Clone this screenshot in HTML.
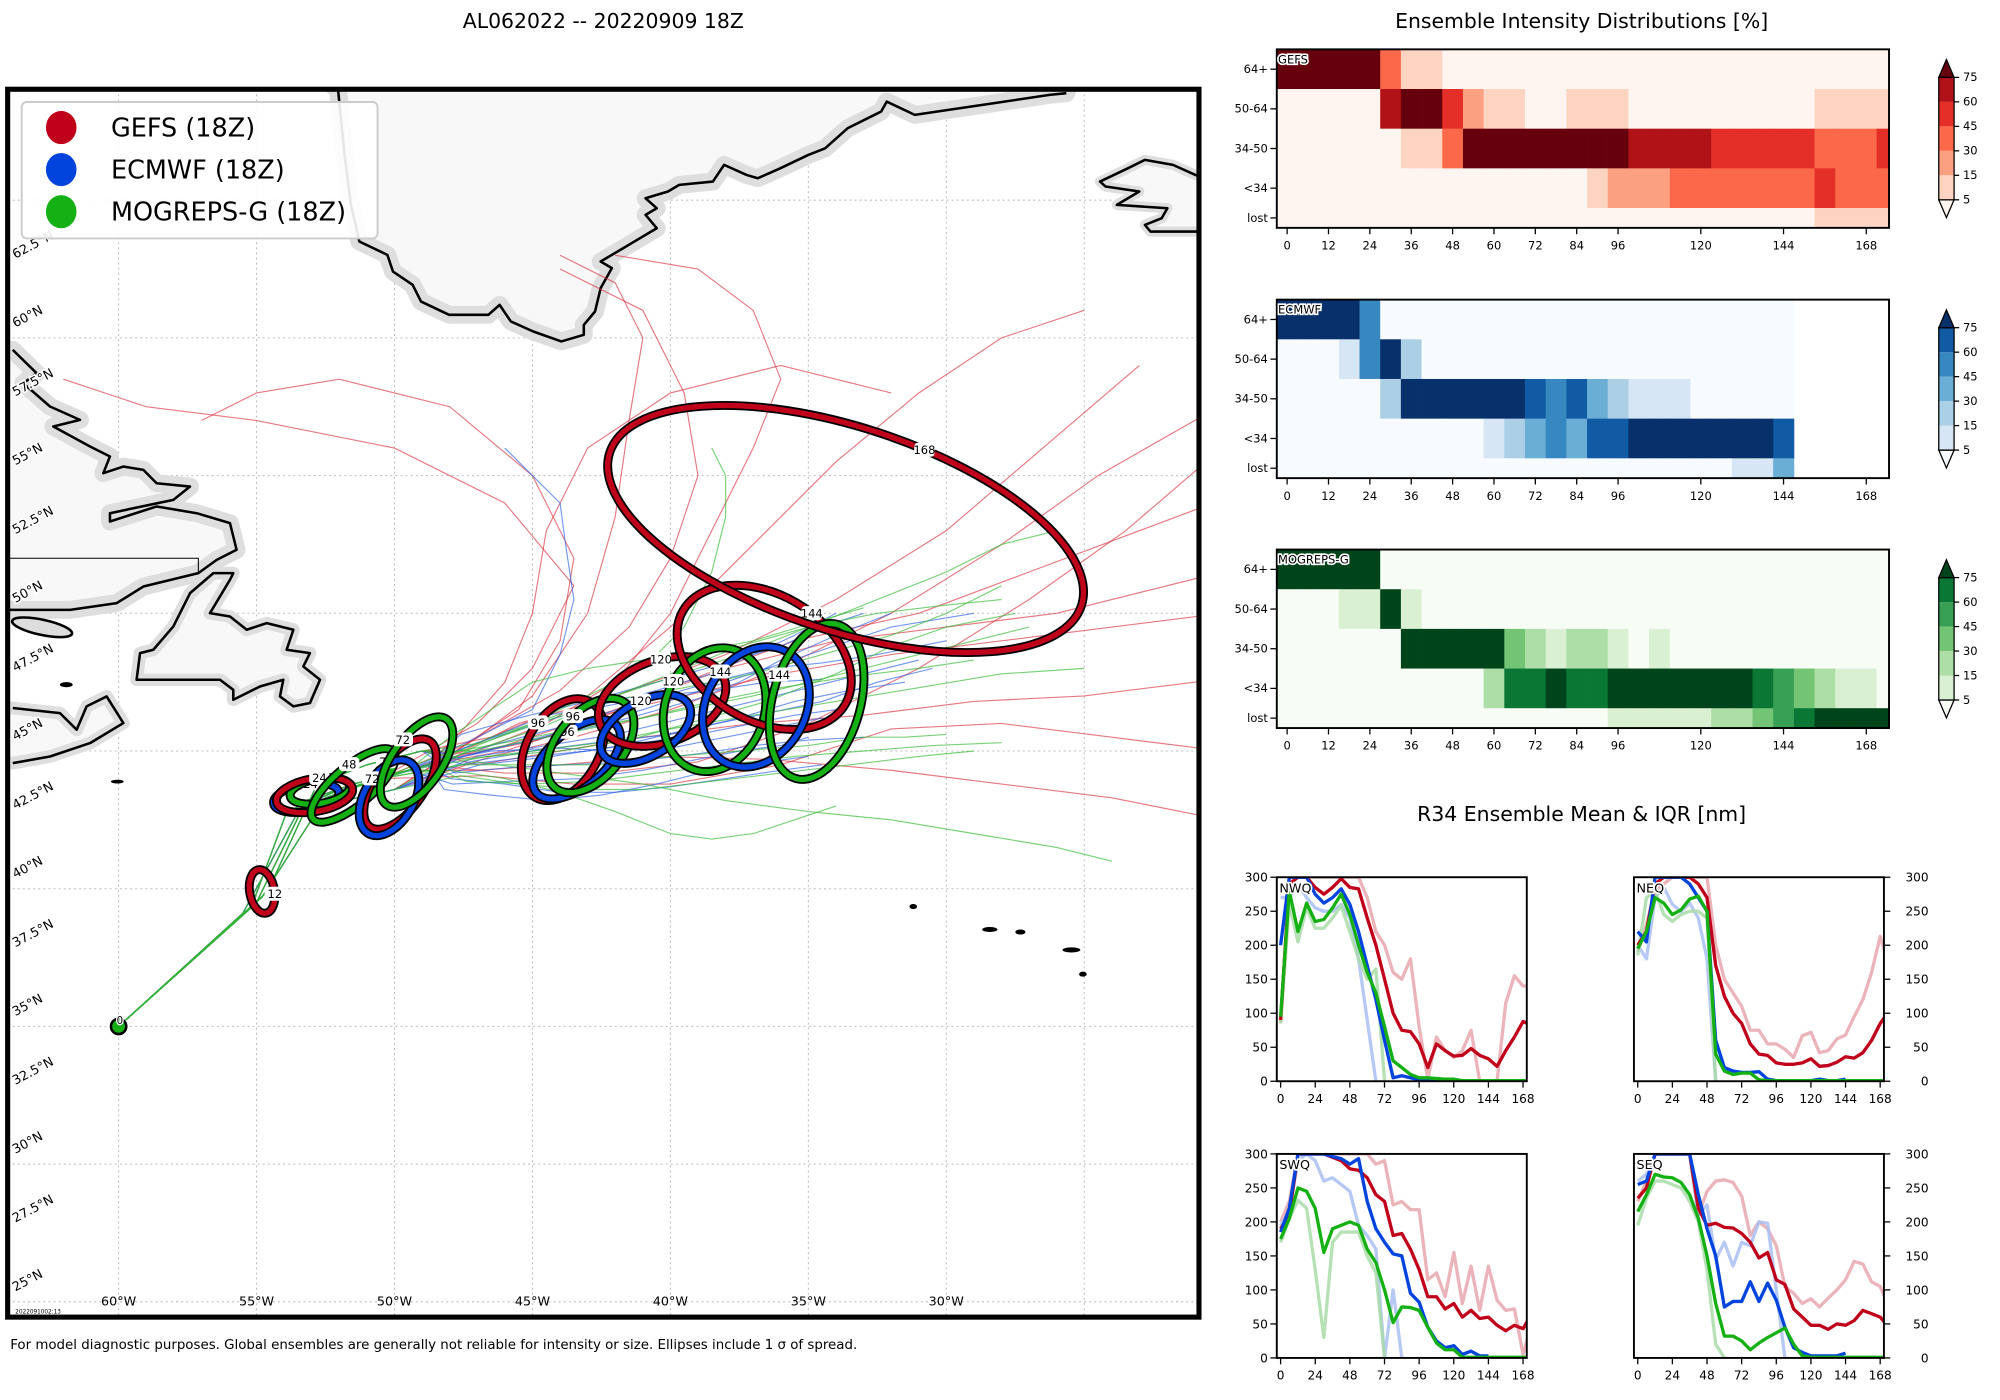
<!DOCTYPE html>
<html><head><meta charset="utf-8"><style>
html,body{margin:0;padding:0;background:#fff;}
svg{display:block;font-family:"DejaVu Sans","Liberation Sans",sans-serif;}
</style></head><body>
<svg id="root" xmlns="http://www.w3.org/2000/svg" width="2000" height="1400" viewBox="0 0 1568 1098" preserveAspectRatio="none">
<defs>
<clipPath id="mapclip"><rect x="6" y="70" width="934" height="963"/></clipPath>
</defs>
<rect x="0" y="0" width="1568" height="1098" fill="#fff"/>
<text x="473" y="22" font-size="16" text-anchor="middle">AL062022 -- 20220909 18Z</text>
<text x="1240" y="22" font-size="16" text-anchor="middle">Ensemble Intensity Distributions [%]</text>
<text x="1240" y="644" font-size="16" text-anchor="middle">R34 Ensemble Mean &amp; IQR [nm]</text>
<text x="8" y="1058" font-size="10.5">For model diagnostic purposes. Global ensembles are generally not reliable for intensity or size. Ellipses include 1 σ of spread.</text>
<g id="map" clip-path="url(#mapclip)">
<rect x="6" y="70" width="934" height="963" fill="#fff"/>
<g id="grid"></g>
<g fill="#f8f8f8" stroke-linejoin="round">
<g>
<polygon id="gl" points="250,60 265,70 270,120 275,160 281.7,189.4 303.7,199.9 308.1,213 323.5,223.4 330.1,236.5 352.1,246.9 382.9,246.9 391.7,239.1 400.5,252.1 418.1,260 440.1,267.8 457.7,262.6 457.7,254.8 466.5,244.3 470.9,226 479.7,210.3 470.9,205.1 488.5,194.7 514.9,179 506.1,168.5 514.9,163.3 506.1,155.5 523.7,150.2 532.5,145 558.9,142.4 567.7,129.3 585.3,137.2 594.1,139.8 611.7,132 633.7,121.5 646.9,116.3 664.5,100.6 690.8,87.5 695.2,79.7 717.2,90.1 743.6,86.2 778.9,81 822.8,74.4 836,73.1 840,60" stroke="#dedede" stroke-width="14"/>
<polyline points="265,70 270,120 275,160 281.7,189.4 303.7,199.9 308.1,213 323.5,223.4 330.1,236.5 352.1,246.9 382.9,246.9 391.7,239.1 400.5,252.1 418.1,260 440.1,267.8 457.7,262.6 457.7,254.8 466.5,244.3 470.9,226 479.7,210.3 470.9,205.1 488.5,194.7 514.9,179 506.1,168.5 514.9,163.3 506.1,155.5 523.7,150.2 532.5,145 558.9,142.4 567.7,129.3 585.3,137.2 594.1,139.8 611.7,132 633.7,121.5 646.9,116.3 664.5,100.6 690.8,87.5 695.2,79.7 717.2,90.1 743.6,86.2 778.9,81 822.8,74.4 836,73.1" fill="none" stroke="#000" stroke-width="2"/>
</g>
<g>
<polygon points="862.4,142.4 884.4,131.9 897.6,125.4 919.6,129.3 937.2,137.2 945,140 945,181.6 902,181.6 897.6,176.4 910.8,171.1 915.2,163.3 875.6,160.7 893.2,150.2 866.8,146.3" stroke="#dedede" stroke-width="8"/>
<polygon points="862.4,142.4 884.4,131.9 897.6,125.4 919.6,129.3 937.2,137.2 945,140 945,181.6 902,181.6 897.6,176.4 910.8,171.1 915.2,163.3 875.6,160.7 893.2,150.2 866.8,146.3" fill="none" stroke="#000" stroke-width="2"/>
</g>
<g>
<polygon points="0,274.4 10,274.4 28.7,292.7 18.3,300.6 39.2,318.8 62.7,329.3 41.8,334.5 70.6,350.2 86.2,358 81,371.1 96.7,365.9 112.4,368.5 122.8,379 149,381.6 135.9,392 86.2,402.5 86.2,409 122.8,397.2 154.2,402.5 180.3,410.3 185.5,431.2 169.9,439.1 155.5,449.5 112.4,460 91.5,473 54.9,478.3 0,478.3" stroke="#dedede" stroke-width="14"/>
<polyline points="10,274.4 28.7,292.7 18.3,300.6 39.2,318.8 62.7,329.3 41.8,334.5 70.6,350.2 86.2,358 81,371.1 96.7,365.9 112.4,368.5 122.8,379 149,381.6 135.9,392 86.2,402.5 86.2,409 122.8,397.2 154.2,402.5 180.3,410.3 185.5,431.2 169.9,439.1 155.5,449.5 112.4,460 91.5,473 54.9,478.3 0,478.3" fill="none" stroke="#000" stroke-width="2"/>
<polyline points="6,437.8 155.5,437.8 155.5,449.5" fill="none" stroke="#000" stroke-width="0.8"/>
</g>
<g>
<polygon points="107.1,533.1 109.8,512.2 120.2,509.6 135.9,491.3 149,465.2 167.3,449.5 182.9,449.5 180.3,454.7 164.6,480.9 180.3,483.5 193.4,493.9 209.1,488.7 230,493.9 224.7,509.6 243,512.2 237.8,522.7 250.9,533.1 243,551.4 230,554 219.5,546.2 222.1,533.1 203.8,538.4 182.9,548.8 182.9,541 172.5,533.1 130.7,533.1" stroke="#dedede" stroke-width="10"/>
<polygon points="107.1,533.1 109.8,512.2 120.2,509.6 135.9,491.3 149,465.2 167.3,449.5 182.9,449.5 180.3,454.7 164.6,480.9 180.3,483.5 193.4,493.9 209.1,488.7 230,493.9 224.7,509.6 243,512.2 237.8,522.7 250.9,533.1 243,551.4 230,554 219.5,546.2 222.1,533.1 203.8,538.4 182.9,548.8 182.9,541 172.5,533.1 130.7,533.1" fill="none" stroke="#000" stroke-width="2"/>
</g>
<g>
<polygon points="0,555.3 10,555.3 47,559.3 60.1,572.3 67.9,554 83.6,546.2 96.7,567.1 70.6,582.8 39.2,593.3 10,598.5 0,598.5" stroke="#dedede" stroke-width="10"/>
<polyline points="10,555.3 47,559.3 60.1,572.3 67.9,554 83.6,546.2 96.7,567.1 70.6,582.8 39.2,593.3 10,598.5" fill="none" stroke="#000" stroke-width="2"/>
</g>
<ellipse cx="33" cy="492" rx="24" ry="6" transform="rotate(12 33 492)" fill="#ddd" stroke="#000" stroke-width="2"/>
<g fill="#000"><ellipse cx="716" cy="711" rx="3" ry="2"/><ellipse cx="776" cy="729" rx="6" ry="2"/><ellipse cx="800" cy="731" rx="4" ry="2"/><ellipse cx="840" cy="745" rx="7" ry="2"/><ellipse cx="849" cy="764" rx="3" ry="2"/><ellipse cx="92" cy="613" rx="5" ry="1.5"/><ellipse cx="52" cy="537" rx="5" ry="2"/></g>
</g>
<g id="tracks"></g>
<g id="ellipses"></g>
</g>
<rect x="6" y="70" width="934" height="963" fill="none" stroke="#000" stroke-width="4"/>
<g id="maplabels" font-size="10"></g>
<text x="12" y="1030" font-size="4.5">2022091002:13</text>
<g>
<rect x="17" y="80" width="279" height="107" rx="4" fill="#fff" fill-opacity="0.9" stroke="#ccc" stroke-width="1.5"/>
<g><ellipse cx="48" cy="100" rx="12" ry="13" fill="#c0001a"/><text x="87" y="107" font-size="20">GEFS (18Z)</text></g>
<g><ellipse cx="48" cy="133" rx="12" ry="13" fill="#0044dd"/><text x="87" y="140" font-size="20">ECMWF (18Z)</text></g>
<g><ellipse cx="48" cy="166" rx="12" ry="13" fill="#14b014"/><text x="87" y="173" font-size="20">MOGREPS-G (18Z)</text></g>
</g>
<g id="heatmaps"></g>
<g id="lines"></g>
</svg>
<script>
// ---------- DATA ----------
const hours = [0,6,12,18,24,30,36,42,48,54,60,66,72,78,84,90,96,102,108,114,120,126,132,138,144,150,156,162,168,174];
const rowLabels = ['64+','50-64','34-50','<34','lost'];
const xTickLabels = [0,12,24,36,48,60,72,84,96,120,144,168];
const cbarLevels = [5,15,30,45,60,75];
const N=null;
const gefs64 = [80,80,80,80,80,35,10,10,0,0,0,0,0,0,0,0,0,0,0,0,0,0,0,0,0,0,0,0,0,0];
const gefs50 = [0,0,0,0,0,65,80,80,50,20,10,10,0,0,10,10,10,0,0,0,0,0,0,0,0,0,10,10,10,10];
const gefs34 = [0,0,0,0,0,0,10,10,35,80,80,80,80,80,80,80,80,65,65,65,65,50,50,50,50,50,35,35,35,50];
const gefsTS = [0,0,0,0,0,0,0,0,0,0,0,0,0,0,0,10,20,20,20,35,35,35,35,35,35,35,50,35,35,35];
const gefsLost = [0,0,0,0,0,0,0,0,0,0,0,0,0,0,0,0,0,0,0,0,0,0,0,0,0,0,10,10,10,10];
const ecm64 = [80,80,80,80,50,0,0,0,0,0,0,0,0,0,0,0,0,0,0,0,0,0,0,0,0,N,N,N,N,N];
const ecm50 = [0,0,0,10,50,80,20,0,0,0,0,0,0,0,0,0,0,0,0,0,0,0,0,0,0,N,N,N,N,N];
const ecm34 = [0,0,0,0,0,20,80,80,80,80,80,80,65,50,65,35,20,10,10,10,0,0,0,0,0,N,N,N,N,N];
const ecmTS = [0,0,0,0,0,0,0,0,0,0,10,20,35,50,35,65,65,80,80,80,80,80,80,80,65,N,N,N,N,N];
const ecmLost = [0,0,0,0,0,0,0,0,0,0,0,0,0,0,0,0,0,0,0,0,0,0,10,10,35,N,N,N,N,N];
const mog64 = [80,80,80,80,80,0,0,0,0,0,0,0,0,0,0,0,0,0,0,0,0,0,0,0,0,0,0,0,0,0];
const mog50 = [0,0,0,10,10,80,10,0,0,0,0,0,0,0,0,0,0,0,0,0,0,0,0,0,0,0,0,0,0,0];
const mog34 = [0,0,0,0,0,0,80,80,80,80,80,35,20,10,20,20,10,0,10,0,0,0,0,0,0,0,0,0,0,0];
const mogTS = [0,0,0,0,0,0,0,0,0,0,20,65,65,80,65,65,80,80,80,80,80,80,80,65,50,35,20,10,10,0];
const mogLost = [0,0,0,0,0,0,0,0,0,0,0,0,0,0,0,0,10,10,10,10,10,20,20,35,50,65,80,80,80,80];

// R34 series (nm), 6-hourly
const nwqGefs = [90,290,300,300,285,275,285,298,285,283,240,200,150,100,75,73,55,20,55,45,37,38,48,38,33,22,45,65,88,82];
const nwqEcm = [200,300,300,300,275,262,270,283,260,220,170,120,60,5,8,5,2,1,1,1,1,1,1,1,1,N,N,N,N,N];
const nwqMog = [95,280,220,262,235,238,255,275,245,200,160,130,80,30,20,10,5,5,4,3,3,1,1,1,1,1,1,1,1,1];
const nwqGefsHi = [85,300,300,300,300,300,300,300,300,300,270,220,200,160,150,180,80,3,65,45,35,45,75,0,0,0,115,155,140,140];
const nwqEcmLo = [270,270,290,270,255,250,250,260,240,180,90,0,N,N,N,N,N,N,N,N,N,N,N,N,N,N,N,N,N,N];
const nwqMogLo = [85,260,205,255,225,225,240,258,220,180,150,165,0,N,N,N,N,N,N,N,N,N,N,N,N,N,N,N,N,N];
const neqGefs = [200,220,290,300,300,300,300,290,270,170,125,100,85,55,40,38,27,25,25,27,33,22,23,28,36,34,42,60,85,103];
const neqEcm = [220,205,300,300,300,300,290,270,250,60,20,15,13,13,14,3,1,1,1,1,1,3,1,1,3,N,N,N,N,N];
const neqMog = [195,220,270,262,245,252,268,272,250,40,15,10,12,12,2,1,1,1,1,1,1,1,1,1,1,1,1,1,1,1];
const neqGefsHi = [190,230,280,290,300,300,300,300,300,200,150,130,110,75,75,55,55,47,35,67,72,42,45,62,68,95,120,160,213,170];
const neqEcmLo = [200,180,270,285,260,250,262,240,180,0,N,N,N,N,N,N,N,N,N,N,N,N,N,N,N,N,N,N,N,N];
const neqMogLo = [185,270,280,245,235,245,250,250,240,0,N,N,N,N,N,N,N,N,N,N,N,N,N,N,N,N,N,N,N,N];
const swqGefs = [190,210,300,300,300,300,295,290,278,276,265,240,230,180,183,160,130,90,90,72,80,60,70,58,60,48,40,48,43,65];
const swqEcm = [185,220,300,300,300,300,296,293,285,293,230,190,170,153,150,95,82,45,25,15,18,5,10,3,3,N,N,N,N,N];
const swqMog = [175,205,250,245,220,155,190,195,200,195,160,140,100,52,75,74,70,45,22,12,12,1,1,1,1,1,1,1,1,1];
const swqGefsHi = [200,230,300,300,300,300,300,300,300,300,300,285,290,225,230,218,218,115,125,90,155,80,135,70,135,85,70,72,5,50];
const swqEcmLo = [195,215,290,300,290,260,265,255,245,195,180,160,0,100,0,N,N,N,N,N,N,N,N,N,N,N,N,N,N,N];
const swqMogLo = [170,205,232,220,130,30,170,185,185,185,150,125,0,N,N,N,N,N,N,N,N,N,N,N,N,N,N,N,N,N];
const seqGefs = [235,250,300,300,300,300,300,220,195,198,192,191,183,170,147,155,115,108,72,60,48,48,42,50,48,55,70,65,60,45];
const seqEcm = [255,260,300,300,300,300,300,240,190,150,75,83,83,112,83,110,85,45,15,8,3,3,3,3,7,N,N,N,N,N];
const seqMog = [215,240,270,266,265,258,240,205,150,80,32,32,25,12,22,30,37,44,20,3,1,1,1,1,1,1,1,1,1,1];
const seqGefsHi = [230,260,300,300,300,300,300,210,245,260,262,258,238,180,200,190,165,105,95,80,87,75,88,100,115,142,138,112,105,75];
const seqEcmHi = [260,270,300,300,300,300,300,210,225,145,170,135,170,165,200,198,100,0,N,N,N,N,N,N,N,N,N,N,N,N];
const seqMogLo = [195,235,260,260,255,250,230,200,130,20,0,N,N,N,N,N,N,N,N,N,N,N,N,N,N,N,N,N,N,N];
const r34Ticks = [0,50,100,150,200,250,300];
const r34XTicks = [0,24,48,72,96,120,144,168];

// Track starts (0-48h) [lon,lat]
const trackBases = [
 [[-60,35],[-55,39.5],[-53.2,43.2],[-51.5,43.8],[-49.5,44.3]],
 [[-60,35],[-55.5,39.1],[-53.6,42.6],[-51.8,43.2],[-50,43.6]],
 [[-60,35],[-54.6,39.9],[-52.8,43.8],[-51,44.5],[-49,45]],
 [[-60,35],[-55.2,39.3],[-53.9,42.8],[-52.2,43.5],[-50.5,44]],
 [[-60,35],[-54.8,39.7],[-52.5,43.3],[-50.8,43.9],[-48.8,44.5]]
];
const gefsTracks = [
 [[-47,45],[-44.5,46],[-42,47.5],[-40,50],[-38.5,53],[-37,56],[-36,58.5],[-37,61],[-39,62.5],[-42,63]],
 [[-46.5,44.8],[-43.5,45.5],[-40,46.5],[-36,48],[-32,50],[-28,52.5],[-24.5,55],[-21,57],[-19,58]],
 [[-47,44.5],[-44,45],[-41,45.5],[-37,46],[-33,46.3],[-29,46.8],[-25,47],[-21,47.5],[-18,48]],
 [[-47.5,45.2],[-45.5,46.5],[-44,49],[-43.5,52],[-45,55],[-48,57.5],[-52,58.5],[-55,58],[-57,57]],
 [[-46,45],[-43,46],[-39.5,47.5],[-35.5,49],[-31,50],[-27,51.5],[-23,53],[-19,54.5]],
 [[-47,44.3],[-44,44.5],[-40.5,44.8],[-36.5,44.7],[-32,44.3],[-28,43.8],[-24,43.3],[-20,42.5]],
 [[-47,45.5],[-45,47],[-43,50],[-42,53.5],[-41.5,57],[-41,60],[-42,62],[-44,63]],
 [[-46.5,45.5],[-43,47],[-40,49.5],[-37,52.5],[-34,55.5],[-31,58],[-28,60],[-25,61]],
 [[-47,46],[-45,48],[-43.5,51],[-46,54],[-50,56],[-55,57],[-59,57.5],[-62,58.5]],
 [[-46,44.2],[-42.5,44.2],[-39,44.6],[-35,46],[-31,48],[-27,50.5],[-23.5,53],[-20,56]],
 [[-47.5,45],[-45.5,46],[-42,47],[-38,48.5],[-34,50.5],[-30,53],[-26.5,56],[-23,59]],
 [[-46.8,45.6],[-44,47.2],[-41.5,49.5],[-40,52],[-39,55],[-39.5,58],[-41,61],[-44,62.5]],
 [[-47.2,44.9],[-44.8,45.4],[-42.5,46.3],[-39.5,47],[-36,47.8],[-32,48.5],[-28,49],[-24,49.5],[-20,50]],
 [[-46.8,44.1],[-43.5,43.8],[-40,43.8],[-36,44.5],[-32,45.8],[-28,46],[-24,45.5],[-20,45]],
 [[-47.5,45.8],[-46,47.5],[-45,50],[-44.5,53],[-43,56],[-40,58],[-36,59],[-32,58]],
 [[-46,45.2],[-42,46.5],[-38,48],[-34,49],[-30,49.5],[-26,50],[-22,51],[-18,52]]
];
const ecmTracks = [
 [[-47,44.8],[-44.5,45.2],[-42,45.6],[-39.5,46.2],[-37,46.8],[-35,47.3],[-33,47.8],[-31,48.3]],
 [[-47.5,44.5],[-45,44.8],[-43,45],[-41,45.3],[-39,45.6],[-37,46],[-35.5,46.3],[-34,46.5]],
 [[-46.5,45.2],[-43.5,46],[-41,46.8],[-38.5,47.5],[-36.5,48],[-34.5,48.2],[-32.5,48.5],[-30,49]],
 [[-48,44],[-46,43.8],[-44,43.5],[-42,43.5],[-40,43.7],[-38,44],[-36,44.3],[-34.5,44.5]],
 [[-47,45.5],[-45,46.5],[-44,48.5],[-43.5,50.5],[-43.8,52.5],[-44,54],[-45,55],[-46,56]],
 [[-47.5,44.8],[-45.5,45.3],[-43.5,45.8],[-41,46.5],[-38,47.5],[-35,48.5],[-32,49.5],[-29,50]],
 [[-47.8,44.2],[-45.8,44.4],[-43.8,44.5],[-41.5,44.6],[-39,44.9],[-37,45.2],[-35,45.4],[-33,45.5]],
 [[-46.8,45],[-44,45.6],[-41.5,46.2],[-39,46.9],[-37.5,47.5],[-36,48.3],[-34,49.2],[-32,50]],
 [[-48.2,43.6],[-46.5,43.4],[-44.5,43.2],[-42.5,43.4],[-40.5,43.8],[-38.5,44.3],[-36.5,44.6],[-35,44.8]],
 [[-47,45.3],[-44.8,46],[-42.8,46.6],[-40.5,47.2],[-38.5,47.8],[-37,48.5],[-35.5,49.2],[-34,50]],
 [[-47.3,44.6],[-45,45],[-42.7,45.3],[-40,45.6],[-37.5,46.2],[-35.5,46.8],[-33.5,47.2],[-31.5,47.5]],
 [[-48,44.9],[-46.2,45.6],[-44.5,46.3],[-42.5,46.6],[-40.5,47],[-38.5,47.2],[-36.5,47.5],[-34.5,47.6]],
 [[-48.5,44.6],[-46.5,45],[-44,45.1],[-42,45],[-40,45.1],[-38,45.5],[-36,45.9],[-34.5,46.2]],
 [[-47.6,45.6],[-45.5,46.2],[-43,46.8],[-40.5,47.5],[-38,48.2],[-36,48.8],[-34.5,49.5],[-33,50]],
 [[-47.9,43.8],[-45.8,43.9],[-43.2,44],[-41,44.3],[-39,44.7],[-37.5,45],[-36,45.2],[-35,45.5]],
 [[-46.9,44.5],[-44.3,44.8],[-41.8,45.2],[-39.3,45.8],[-36.8,46.3],[-34.5,46.8],[-32.5,47.5],[-30.5,48]]
];
const mogTracks = [
 [[-47,45],[-44.5,45.5],[-42,46],[-39.5,46.5],[-37,47],[-35,47.5],[-33,48],[-31,48.5],[-29,49],[-27,49.5]],
 [[-47.5,44.5],[-45,44.5],[-42.5,44.5],[-40,44.8],[-37.5,45],[-35,45.2],[-33,45.5],[-31.5,45.5],[-30,45.6]],
 [[-46.5,45.5],[-43.5,46.5],[-40.5,47.5],[-37.5,48.5],[-35,49.5],[-32.5,50.5],[-30,51.5],[-28,52.5],[-26,53]],
 [[-48,44.3],[-46,44],[-44,43.5],[-42,42.8],[-40,42],[-38.5,41.8],[-37,42],[-35.5,42.5],[-34,43]],
 [[-47,45.2],[-45,46],[-43,47],[-41,48],[-39.5,49.5],[-38.5,51.5],[-38,53.5],[-38,55],[-38.5,56]],
 [[-47.5,44.7],[-45,45],[-42.5,45.3],[-40,45.8],[-37,46.3],[-34,46.8],[-31,47.3],[-28,47.8],[-25,48]],
 [[-47,44.6],[-44,44.2],[-41,43.8],[-38,43.2],[-35,42.8],[-32,42.5],[-29,42],[-26,41.5],[-24,41]],
 [[-47.2,45],[-44.8,45.8],[-42.5,46.8],[-40,47.8],[-37.5,48.8],[-35,49.5],[-32.5,50],[-30,50.3],[-28,50.5]],
 [[-48,45.5],[-46.5,46.5],[-45,47.5],[-43,48],[-41,48.3],[-39,48.6],[-37,49],[-35,49.6],[-33,50.2]],
 [[-47.6,44.1],[-45.5,43.8],[-43.2,43.6],[-41,43.6],[-38.5,43.9],[-36,44.2],[-33.5,44.5],[-31,44.8],[-29,45]],
 [[-46.8,45.3],[-44.2,46.2],[-41.8,46.9],[-39.5,47.3],[-37,47.8],[-34.5,48.5],[-32,49.2],[-30,50],[-28,51]],
 [[-48.2,44.9],[-46,45.3],[-43.5,45.8],[-41,46.2],[-38.5,46.8],[-36,47.3],[-33.5,47.7],[-31,48],[-29,48.3]],
 [[-47.4,43.9],[-45.2,43.8],[-42.8,43.9],[-40.5,44.2],[-38,44.5],[-35.5,44.8],[-33,45],[-30.5,45.2],[-28,45.3]],
 [[-46.6,44.8],[-44,45],[-41.5,45.4],[-39,46.1],[-36.5,46.8],[-34,47.8],[-32,48.8],[-30,49.5],[-27.5,50]]
];
// Ellipses: model, label, lon, lat, semi-major (deg), semi-minor (deg), rotation (deg)
const ellModel = ['g','e','m','g','m','g','e','m','g','e','m','g','e','m','g','e','m','g'];
const ellHour  = [12,24,24,24,48,72,72,72,96,96,96,120,120,120,144,144,144,168];
const ellLon   = [-54.8,-53.2,-52.7,-52.9,-51.5,-49.8,-50.2,-49.2,-43.9,-43.4,-42.9,-40.3,-40.9,-38.4,-36.6,-36.9,-34.7,-33.65];
const ellLat   = [39.9,43.3,43.55,43.4,43.75,43.8,43.3,44.6,45.05,44.7,45.2,46.8,45.8,46.5,48.4,46.6,46.8,53.06];
const ellMaj   = [0.8,1.2,1.1,1.4,1.9,1.9,1.5,1.9,2.0,1.9,2.0,2.4,1.8,2.3,3.4,2.3,2.9,9.0];
const ellMin   = [0.45,0.5,0.45,0.6,0.7,0.9,0.9,0.9,1.3,1.0,1.2,1.5,1.0,1.8,2.3,1.8,1.6,3.7];
const ellRot   = [80,-10,-10,-10,-40,-55,-60,-55,-60,-40,-50,-20,-30,-70,30,-60,-75,18];

// ---------- HELPERS ----------
const NS='http://www.w3.org/2000/svg';
function mk(tag, parent, attrs){const e=document.createElementNS(NS,tag);for(const k in attrs)e.setAttribute(k,attrs[k]);parent.appendChild(e);return e;}
const colors={g:'#c0001a',e:'#0044dd',m:'#14b014'};

// ---------- MAP ----------
const lonX = lon => 93 + (lon+60)*21.63;
const latY = lat => 481 + (50-lat)*21.6;
const grid=document.getElementById('grid');
for(let lon=-65;lon<=-20;lon+=5){const l=mk('line',grid,{x1:lonX(lon),x2:lonX(lon),y1:70,y2:1033,stroke:'#bbb','stroke-width':0.8,'stroke-dasharray':'1.5,2.5'});

}
for(let lat=25;lat<=65;lat+=5){const l=mk('line',grid,{x1:6,x2:940,y1:latY(lat),y2:latY(lat),stroke:'#bbb','stroke-width':0.8,'stroke-dasharray':'1.5,2.5'});

}
const ml=document.getElementById('maplabels');
[-60,-55,-50,-45,-40,-35,-30].forEach(lon=>{const t=mk('text',ml,{x:lonX(lon),y:1024,'text-anchor':'middle'});t.textContent=(-lon)+'°W';

});
[62.5,60,57.5,55,52.5,50,47.5,45,42.5,40,37.5,35,32.5,30,27.5,25].forEach(lat=>{const y=latY(lat)-8;const t=mk('text',ml,{x:12,y:y,transform:`rotate(-28 12 ${y})`,stroke:'#fff','stroke-width':2.5,'paint-order':'stroke'});t.textContent=lat+'°N';

});

const tg=document.getElementById('tracks');
function drawTracks(list,col,name,off){list.forEach((tr,i)=>{const base=trackBases[(i+off)%trackBases.length];const pts=base.concat(tr).map(p=>lonX(p[0]).toFixed(1)+','+latY(p[1]).toFixed(1)).join(' ');
const pl=mk('polyline',tg,{points:pts,fill:'none',stroke:col,'stroke-width':0.9,'stroke-opacity':0.65});

});}
drawTracks(gefsTracks,'#d8303f','gefs-track',0);
drawTracks(ecmTracks,'#2a5ee8','ecmwf-track',1);
drawTracks(mogTracks,'#30b830','mogreps-track',2);

const eg=document.getElementById('ellipses');
ellModel.forEach((m,i)=>{const cx=lonX(ellLon[i]),cy=latY(ellLat[i]),rx=ellMaj[i]*21.6,ry=ellMin[i]*21.6,r=ellRot[i];
const g=mk('g',eg,{transform:`translate(${cx},${cy}) rotate(${r})`});


mk('ellipse',g,{cx:0,cy:0,rx:rx,ry:ry,fill:'none',stroke:'#000','stroke-width':7});
mk('ellipse',g,{cx:0,cy:0,rx:rx,ry:ry,fill:'none',stroke:colors[m],'stroke-width':4.2});
const a=-Math.PI/2.3;const lx=rx*Math.cos(a),ly=ry*Math.sin(a);
const lg=mk('g',g,{transform:`translate(${lx},${ly}) rotate(${-r})`});
mk('rect',lg,{x:-8,y:-5.5,width:16,height:11,rx:3,fill:'#fff'});
const t=mk('text',lg,{x:0,y:3.5,'font-size':9,'text-anchor':'middle'});t.textContent=ellHour[i];

});
const st=mk('circle',eg,{cx:lonX(trackBases[0][0][0]),cy:latY(trackBases[0][0][1]),r:6,fill:'#14b014',stroke:'#000','stroke-width':2});


const st0=mk('text',eg,{x:lonX(trackBases[0][0][0])+1,y:latY(trackBases[0][0][1])-2,'font-size':8,'text-anchor':'middle',fill:'#000',stroke:'#fff','stroke-width':2,'paint-order':'stroke'});
st0.textContent='0';



// ---------- HEATMAPS ----------
const hm=document.getElementById('heatmaps');
const reds=['#fff5f0','#fdd4c2','#fca082','#fb694a','#e32f27','#b11218','#67000d'];
const blues=['#f7fbff','#d6e6f4','#abcfe5','#6aaed6','#3787c0','#105ba4','#08306b'];
const greens=['#f7fcf5','#d9f0d3','#addea7','#74c476','#37a055','#0b7734','#00441b'];
function cidx(v){let k=0;cbarLevels.forEach((l,i)=>{if(v>=l)k=i+1;});return k;}
const HX0=1001,HX1=1481;const hx=t=>HX0+(t+3)*(HX1-HX0)/177.6;
function heat(top,rows,pal,name){
 const H=140;const unit=H/4.5;const g=mk('g',hm,{});
 
 
 rows.forEach((row,r)=>{const y0=top+r*unit,h=(r===4?unit*0.5:unit);
  row.forEach((v,i)=>{if(v===null)return;const x0=hx(hours[i]-3),x1=Math.min(hx(hours[i]+3),HX1);
   const c=mk('rect',g,{x:x0,y:y0,width:x1-x0+0.3,height:h+0.3,fill:pal[cidx(v)]});
   
   });
  const ty=y0+h/2;mk('line',g,{x1:HX0-5,x2:HX0,y1:ty,y2:ty,stroke:'#000','stroke-width':1});
  const lt=mk('text',g,{x:HX0-7,y:ty+3,'font-size':9,'text-anchor':'end'});lt.textContent=rowLabels[r];
  
  });
 mk('rect',g,{x:HX0,y:top,width:HX1-HX0,height:H,fill:'none',stroke:'#000','stroke-width':1.5});
 xTickLabels.forEach(t=>{const x=hx(t);mk('line',g,{x1:x,x2:x,y1:top+H,y2:top+H+5,stroke:'#000','stroke-width':1});
  const tt=mk('text',g,{x:x,y:top+H+17,'font-size':9,'text-anchor':'middle'});tt.textContent=t;
  
  });
 const nt=mk('text',g,{x:HX0+1,y:top+11,'font-size':9,stroke:'#fff','stroke-width':2.5,'paint-order':'stroke'});nt.textContent=name;
 
 
 const cb=mk('g',hm,{});
 
 
 const cbx=1520,cbw=12,yb=top+118,seg=19.2;
 mk('polygon',cb,{points:`${cbx},${yb} ${cbx+cbw},${yb} ${cbx+cbw/2},${yb+14}`,fill:pal[0],stroke:'#000','stroke-width':1});
 for(let k=0;k<5;k++){mk('rect',cb,{x:cbx,y:yb-(k+1)*seg,width:cbw,height:seg,fill:pal[k+1]});}
 const ytop=yb-5*seg;
 mk('polygon',cb,{points:`${cbx},${ytop} ${cbx+cbw},${ytop} ${cbx+cbw/2},${ytop-14}`,fill:pal[6],stroke:'#000','stroke-width':1});
 mk('rect',cb,{x:cbx,y:ytop,width:cbw,height:5*seg,fill:'none',stroke:'#000','stroke-width':1});
 cbarLevels.forEach((l,k)=>{const y=yb-k*seg;mk('line',cb,{x1:cbx+cbw,x2:cbx+cbw+4,y1:y,y2:y,stroke:'#000'});
  const lt=mk('text',cb,{x:cbx+cbw+7,y:y+3,'font-size':9});lt.textContent=l;
  
  });
}
heat(38.7,[gefs64,gefs50,gefs34,gefsTS,gefsLost],reds,'GEFS');
heat(235,[ecm64,ecm50,ecm34,ecmTS,ecmLost],blues,'ECMWF');
heat(431,[mog64,mog50,mog34,mogTS,mogLost],greens,'MOGREPS-G');

// ---------- R34 LINE CHARTS ----------
const lg=document.getElementById('lines');let clipN=0;
function r34(x0,y0,name,right,series){
 const W=196,H=160;const xs=t=>x0+(t+2.65)*W/173.25;const ys=v=>y0+H-v*H/300;
 const g=mk('g',lg,{});
 
 
 const cp=mk('clipPath',g,{id:'cp'+(++clipN)});mk('rect',cp,{x:x0,y:y0,width:W,height:H});
 const pg=mk('g',g,{'clip-path':`url(#cp${clipN})`});
 series.forEach(s=>{let d='',pen=false;s.v.forEach((v,i)=>{if(v===null){pen=false;return;}d+=(pen?'L':'M')+xs(hours[i]).toFixed(1)+','+ys(v).toFixed(1);pen=true;});
  const p=mk('path',pg,{d:d,fill:'none',stroke:s.c,'stroke-width':2.6,'stroke-opacity':s.o,'stroke-linejoin':'round'});
  
  });
 mk('rect',g,{x:x0,y:y0,width:W,height:H,fill:'none',stroke:'#000','stroke-width':1.5});
 r34XTicks.forEach(t=>{const x=xs(t);mk('line',g,{x1:x,x2:x,y1:y0+H,y2:y0+H+5,stroke:'#000'});
  const tt=mk('text',g,{x:x,y:y0+H+17,'font-size':9.5,'text-anchor':'middle'});tt.textContent=t;
  
  });
 r34Ticks.forEach(v=>{const y=ys(v);const xe=right?x0+W:x0;const dx=right?5:-5;
  mk('line',g,{x1:xe,x2:xe+dx,y1:y,y2:y,stroke:'#000'});
  const tt=mk('text',g,{x:right?xe+35:xe-7,y:y+3.5,'font-size':9.5,'text-anchor':'end'});tt.textContent=v;
  
  });
 const nt=mk('text',g,{x:x0+2,y:y0+12,'font-size':10,stroke:'#fff','stroke-width':2.5,'paint-order':'stroke'});nt.textContent=name;
 
 
}
const LR='#e8a7ae',LB='#a9c0f2',LG='#a8dca8';
r34(1001,688,'NWQ',false,[{v:nwqGefsHi,c:LR,o:0.85,n:'gefs-iqr'},{v:nwqEcmLo,c:LB,o:0.85,n:'ecmwf-iqr'},{v:nwqMogLo,c:LG,o:0.85,n:'mogreps-iqr'},{v:nwqGefs,c:'#c0001a',o:1,n:'gefs-mean'},{v:nwqEcm,c:'#0044dd',o:1,n:'ecmwf-mean'},{v:nwqMog,c:'#14b014',o:1,n:'mogreps-mean'}]);
r34(1281,688,'NEQ',true,[{v:neqGefsHi,c:LR,o:0.85,n:'gefs-iqr'},{v:neqEcmLo,c:LB,o:0.85,n:'ecmwf-iqr'},{v:neqMogLo,c:LG,o:0.85,n:'mogreps-iqr'},{v:neqGefs,c:'#c0001a',o:1,n:'gefs-mean'},{v:neqEcm,c:'#0044dd',o:1,n:'ecmwf-mean'},{v:neqMog,c:'#14b014',o:1,n:'mogreps-mean'}]);
r34(1001,905,'SWQ',false,[{v:swqGefsHi,c:LR,o:0.85,n:'gefs-iqr'},{v:swqEcmLo,c:LB,o:0.85,n:'ecmwf-iqr'},{v:swqMogLo,c:LG,o:0.85,n:'mogreps-iqr'},{v:swqGefs,c:'#c0001a',o:1,n:'gefs-mean'},{v:swqEcm,c:'#0044dd',o:1,n:'ecmwf-mean'},{v:swqMog,c:'#14b014',o:1,n:'mogreps-mean'}]);
r34(1281,905,'SEQ',true,[{v:seqGefsHi,c:LR,o:0.85,n:'gefs-iqr'},{v:seqEcmHi,c:LB,o:0.85,n:'ecmwf-iqr'},{v:seqMogLo,c:LG,o:0.85,n:'mogreps-iqr'},{v:seqGefs,c:'#c0001a',o:1,n:'gefs-mean'},{v:seqEcm,c:'#0044dd',o:1,n:'ecmwf-mean'},{v:seqMog,c:'#14b014',o:1,n:'mogreps-mean'}]);
</script>
</body></html>
